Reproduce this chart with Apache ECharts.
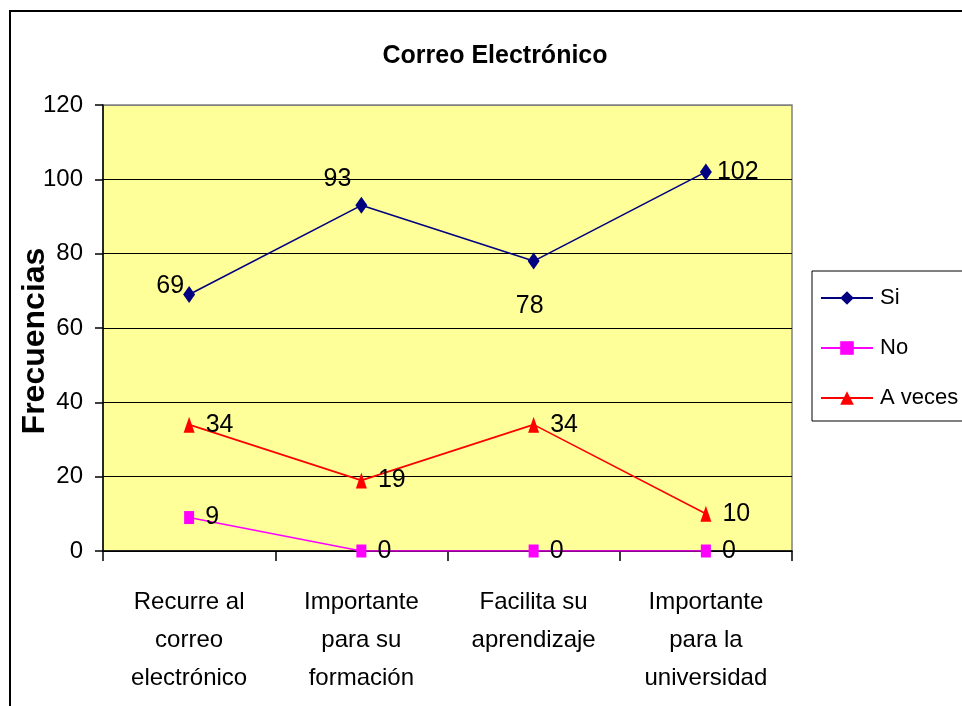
<!DOCTYPE html>
<html>
<head>
<meta charset="utf-8">
<script src="https://cdn.jsdelivr.net/npm/echarts@6/dist/echarts.min.js"></script>
<style>
  html, body { margin: 0; padding: 0; background: #fff; }
  #chart { width: 962px; height: 706px; }
</style>
</head>
<body>
<div id="chart"></div>
<script>
// chart data
const categories = [
  'Recurre al\ncorreo\nelectrónico',
  'Importante\npara su\nformación',
  'Facilita su\naprendizaje',
  'Importante\npara la\nuniversidad'
]
const siValues = [69, 93, 78, 102]
const noValues = [9, 0, 0, 0]
const aVecesValues = [34, 19, 34, 10]

const FONT = '"Liberation Sans", Arial, sans-serif'

// where each "Si" label sits relative to its point
const siLabelPos = [
  { position: 'left', offset: [6, -8] },
  { position: 'top', offset: [-24, 0] },
  { position: 'bottom', offset: [-4, 19] },
  { position: 'right', offset: [0, 0] }
]

const chart = echarts.init(document.getElementById('chart'))

const labelStyle = { show: true, color: '#000', fontSize: 25, fontFamily: FONT }

const option = {
  backgroundColor: '#fff',
  animation: false,
  title: {
    text: 'Correo Electrónico',
    left: 490,
    textAlign: 'center',
    top: 39,
    textStyle: { fontFamily: FONT, fontSize: 25, fontWeight: 'bold', color: '#000' }
  },
  graphic: [
    {
      type: 'rect',
      shape: { x: 10, y: 11, width: 1000, height: 1000 },
      style: { fill: 'none', stroke: '#000', lineWidth: 2 },
      z: 100
    },
    // y axis title, placed by hand like the original
    {
      type: 'text',
      x: 35,
      y: 341,
      rotation: Math.PI / 2,
      style: {
        text: 'Frecuencias',
        fontFamily: FONT,
        fontSize: 32,
        fontWeight: 'bold',
        fill: '#000',
        align: 'center',
        verticalAlign: 'middle'
      }
    }
  ],
  legend: {
    orient: 'vertical',
    left: 812,
    top: 271,
    width: 160,
    padding: [16, 30, 12, 8],
    itemGap: 28,
    itemWidth: 52,
    itemHeight: 17,
    borderColor: '#000',
    borderWidth: 1,
    textStyle: { fontFamily: FONT, fontSize: 22, color: '#000', padding: [0, 0, 0, 2] },
    data: ['Si', 'No', 'A veces']
  },
  grid: {
    left: 103,
    top: 105,
    right: 170,
    bottom: 155,
    outerBoundsMode: 'none',
    containLabel: false,
    show: true,
    backgroundColor: '#FFFF99',
    borderColor: '#808080',
    borderWidth: 1.5
  },
  xAxis: {
    type: 'category',
    data: categories,
    boundaryGap: true,
    axisLine: { lineStyle: { color: '#000', width: 1.5 } },
    axisTick: { show: true, length: 10, lineStyle: { color: '#000', width: 1.5 } },
    axisLabel: {
      color: '#000',
      fontFamily: FONT,
      fontSize: 24,
      lineHeight: 38,
      margin: 32,
      interval: 0
    },
    splitLine: { show: false }
  },
  yAxis: {
    type: 'value',
    min: 0,
    max: 120,
    interval: 20,
    axisLine: { show: true, lineStyle: { color: '#000', width: 1.5 } },
    axisTick: { show: true, length: 8, inside: false, lineStyle: { color: '#000', width: 1.5 } },
    axisLabel: { color: '#000', fontFamily: FONT, fontSize: 24, margin: 20 },
    splitLine: {
      show: true,
      lineStyle: { color: ['#000', '#000', '#000', '#000', '#000', '#000', '#808080'], width: 1.2 }
    }
  },
  series: [
    {
      name: 'Si',
      type: 'line',
      data: siValues.map((v, i) => ({ value: v, label: siLabelPos[i] })),
      symbol: 'diamond',
      symbolSize: [12, 17],
      itemStyle: { color: '#000080' },
      lineStyle: { color: '#000080', width: 1.6 },
      label: Object.assign({}, labelStyle, { distance: 5 }),
      z: 3
    },
    {
      name: 'No',
      type: 'line',
      data: noValues,
      symbol: 'rect',
      symbolSize: [10, 13],
      itemStyle: { color: '#FF00FF' },
      lineStyle: { color: '#FF00FF', width: 1.6 },
      label: Object.assign({}, labelStyle, { position: 'right', distance: 11 }),
      z: 2
    },
    {
      name: 'A veces',
      type: 'line',
      data: aVecesValues,
      symbol: 'triangle',
      symbolSize: [11, 16],
      itemStyle: { color: '#FF0000' },
      lineStyle: { color: '#FF0000', width: 1.6 },
      label: Object.assign({}, labelStyle, { position: 'right', distance: 11 }),
      z: 2
    }
  ]
}

chart.setOption(option)
</script>
</body>
</html>
